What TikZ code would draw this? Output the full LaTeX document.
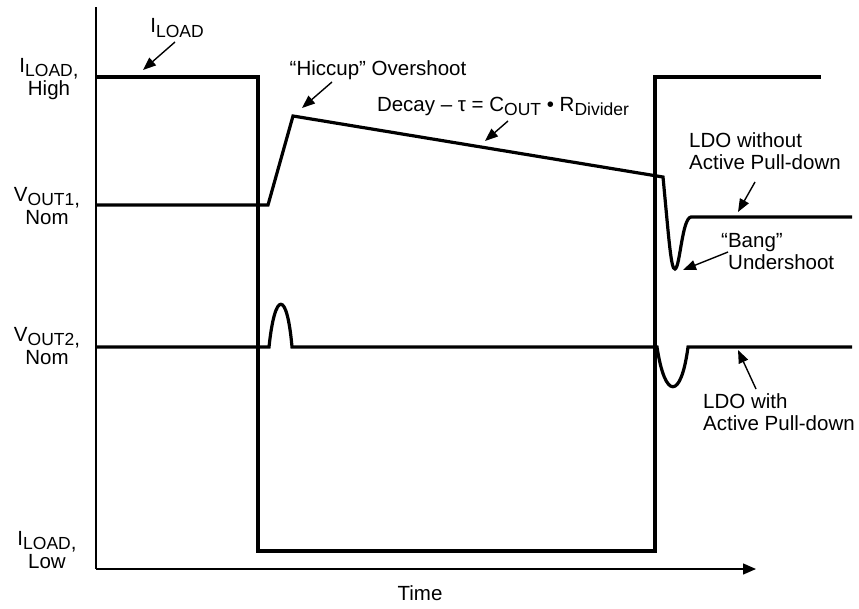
\documentclass[tikz,border=0pt]{standalone}
\usepackage{fontspec}
\setmainfont{Liberation Sans}
\usetikzlibrary{arrows.meta}
\newcommand\sbs[1]{\raisebox{-0.2em}{\fontsize{17.5}{17.5}\selectfont #1}}
\newcommand\sbc[1]{\raisebox{-0.2em}{{\fontsize{17.5}{17.5}\selectfont #1},}}
\begin{document}
\begin{tikzpicture}[x=1pt,y=-1pt,
  lbl/.style={font=\fontsize{20.5}{22}\selectfont, inner sep=0pt, align=center},
  lbls/.style={font=\fontsize{20.5}{23}\selectfont, inner sep=0pt, align=center},
  lbll/.style={lbl, align=left},
  wave/.style={line width=3.2pt, line join=miter},
  axis/.style={line width=1.4pt},
  callout/.style={line width=1.4pt, -{Triangle[length=13pt,width=10pt]}}]
\useasboundingbox (0,0) rectangle (859,608);
% axes
\coordinate (ytop) at (96,7);
\coordinate (orig) at (96,569);
\coordinate (xend) at (756,569);
\draw[axis] (ytop) -- (orig);
\draw[axis, -{Triangle[length=13pt,width=11pt]}] (orig) -- (xend);
% I_LOAD waveform
\draw[wave] (96,77) -- (258,77) -- (258,551) -- (655,551) -- (655,77) -- (821,77);
% V_OUT1 waveform
\draw[wave] (96,205) -- (268,205) -- (293,116) -- (663,177)
  .. controls (669,240) and (671,270) .. (675,269)
  .. controls (680,268) and (682,218) .. (691,217) -- (852,217);
% V_OUT2 waveform
\draw[wave] (96,347) -- (269,347) .. controls (275,290) and (287,290) .. (292,347)
  -- (657,347) .. controls (665,400) and (681,400) .. (688,347) -- (852,347);
% labels
\node[lbl] (iload) at (177,28) {I\sbs{LOAD}};
\node[lbls] (ilh) at (49,79) {I\sbc{LOAD}\\High};
\node[lbls] (v1) at (47,206) {V\sbc{OUT1}\\Nom};
\node[lbls] (v2) at (47,346) {V\sbc{OUT2}\\Nom};
\node[lbls] (ill) at (47,550) {I\sbc{LOAD}\\Low};
\node[lbl] (hic) at (378,70) {“Hiccup” Overshoot};
\node[lbl] (decay) at (503,106) {Decay – τ = C\sbs{OUT} • R\sbs{Divider}};
\node[lbll, anchor=north west] (ldowo) at (689,132) {LDO without\\Active Pull-down};
\node[lbll, anchor=north west] (bang) at (721,233) {“Bang”\\\hspace*{7pt}Undershoot};
\node[lbll, anchor=north west] (ldow) at (703,393) {LDO with\\Active Pull-down};
\node[lbl] (time) at (420,593) {Time};
% callout arrows
\coordinate (a1s) at (175,42); \coordinate (a1e) at (143,70);
\coordinate (a2s) at (332,82); \coordinate (a2e) at (302,108);
\coordinate (a3s) at (508,121); \coordinate (a3e) at (485,141);
\coordinate (a4s) at (755,182); \coordinate (a4e) at (738,212);
\coordinate (a5s) at (728,252); \coordinate (a5e) at (683,270);
\coordinate (a6s) at (756,389); \coordinate (a6e) at (738,350);
\draw[callout] (a1s) -- (a1e);
\draw[callout] (a2s) -- (a2e);
\draw[callout] (a3s) -- (a3e);
\draw[callout] (a4s) -- (a4e);
\draw[callout] (a5s) -- (a5e);
\draw[callout] (a6s) -- (a6e);
\end{tikzpicture}
\end{document}
